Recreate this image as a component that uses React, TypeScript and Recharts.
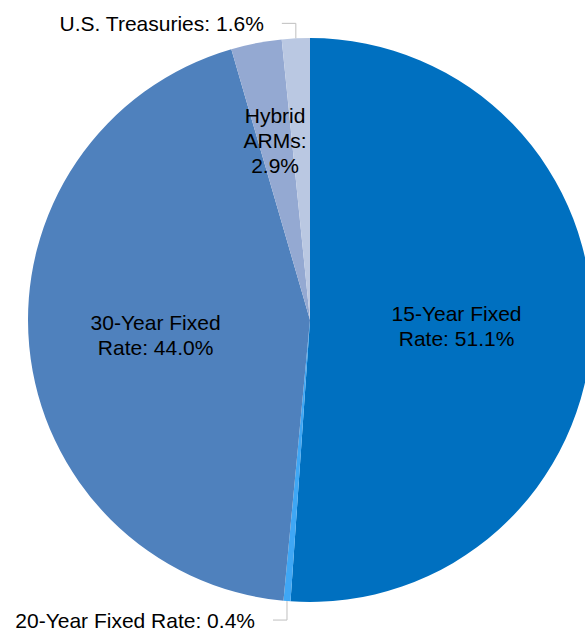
import { PieChart, Pie, Cell } from "recharts";

const names = ["15-Year Fixed Rate", "20-Year Fixed Rate", "30-Year Fixed Rate", "Hybrid ARMs", "U.S. Treasuries"];
const values = [51.1, 0.4, 44.0, 2.9, 1.6];
const colors = ["#0070C0", "#3FA7F5", "#4F81BD", "#94A9D2", "#BAC8E2"];

const data = names.map((name, i) => ({ name, value: values[i] }));

const RAD = Math.PI / 180;
const FONT = "'Liberation Sans', Arial, sans-serif";

// inside labels: lines of text, radius as fraction of the pie radius
const insideLines: Record<number, string[]> = {
  0: ["15-Year Fixed", "Rate: 51.1%"],
  2: ["30-Year Fixed", "Rate: 44.0%"],
  3: ["Hybrid", "ARMs:", "2.9%"],
};
const insideRadius: Record<number, number> = { 0: 0.52, 2: 0.55, 3: 0.65 };

function renderLabel(props: any) {
  const { cx, cy, midAngle, outerRadius, index } = props;
  const lh = 25;
  if (insideLines[index]) {
    const lines = insideLines[index];
    const r = outerRadius * insideRadius[index];
    const x = cx + r * Math.cos(-midAngle * RAD);
    const y = cy + r * Math.sin(-midAngle * RAD);
    const top = y - ((lines.length - 1) * lh) / 2;
    return (
      <text key={index} x={x} y={top} textAnchor="middle" dominantBaseline="central" fill="#000" fontSize={21} fontFamily={FONT}>
        {lines.map((l, k) => (
          <tspan key={k} x={x} y={top + k * lh}>{l}</tspan>
        ))}
      </text>
    );
  }
  // outside labels with elbow leader line
  const sx = cx + outerRadius * Math.cos(-midAngle * RAD);
  const sy = cy + outerRadius * Math.sin(-midAngle * RAD);
  const up = sy < cy;
  const ey = up ? sy - 15 : sy + 19;
  const ex = sx - 14;
  const label = `${names[index]}: ${values[index].toFixed(1)}%`;
  return (
    <g key={index}>
      <polyline points={`${sx},${sy} ${sx},${ey} ${ex},${ey}`} fill="none" stroke="#BFBFBF" strokeWidth={1} />
      <text x={ex - 18} y={ey} textAnchor="end" dominantBaseline="central" fill="#000" fontSize={21} fontFamily={FONT}>
        {label}
      </text>
    </g>
  );
}

export default function App() {
  return (
    <div style={{ position: "absolute", left: 0, top: 0, width: 585, height: 629, background: "#fff" }}>
      <PieChart width={585} height={629} margin={{ top: 0, right: 0, bottom: 0, left: 0 }}>
        <Pie
          data={data}
          dataKey="value"
          nameKey="name"
          cx={310}
          cy={320}
          outerRadius={282}
          startAngle={90}
          endAngle={-270}
          stroke="none"
          label={renderLabel}
          labelLine={false}
          isAnimationActive={false}
        >
          {data.map((d, i) => (
            <Cell key={d.name} fill={colors[i]} />
          ))}
        </Pie>
      </PieChart>
    </div>
  );
}
